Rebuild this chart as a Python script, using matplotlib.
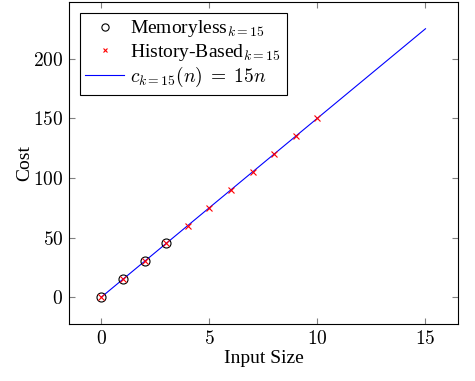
import matplotlib
matplotlib.use('Agg')
import matplotlib.pyplot as plt
import numpy as np

plt.rcParams['font.family'] = ['Liberation Serif', 'DejaVu Serif']
plt.rcParams['mathtext.fontset'] = 'cm'

# Data
memoryless_n = [0, 1, 2, 3]
memoryless_cost = [0, 15, 30, 45]
history_n = [0, 1, 2, 3, 4, 5, 6, 7, 8, 9, 10]
history_cost = [0, 15, 30, 45, 60, 75, 90, 105, 120, 135, 150]
line_n = [0, 15]
line_cost = [0, 225]
xticks = [0, 5, 10, 15]
yticks = [0, 50, 100, 150, 200]

fig = plt.figure(figsize=(4.75, 3.81), dpi=100)
ax = fig.add_axes([0.145, 0.1496, 0.819, 0.8454])

ax.plot(memoryless_n, memoryless_cost, 'o', mfc='none', mec='black', ms=6.5, mew=0.8,
        label=r'Memoryless$_{k=15}$', zorder=3)
ax.plot(history_n, history_cost, 'x', color='red', ms=4.3, mew=0.8,
        label=r'History-Based$_{k=15}$', zorder=4)
ax.plot(line_n, line_cost, '-', color='blue', lw=0.8,
        label=r'$c_{k=15}(n)\;=\;15n$', zorder=2)

ax.set_xlim(-1.5, 16.5)
ax.set_ylim(-22.5, 247.5)
ax.set_xticks(xticks)
ax.set_yticks(yticks)
ax.set_xticklabels([f'${t}$' for t in xticks], fontsize=14)
ax.set_yticklabels([f'${t}$' for t in yticks], fontsize=14)
ax.tick_params(direction='in', top=True, right=True, length=4, width=0.8, color='0.5', pad=4)
for s in ax.spines.values():
    s.set_linewidth(0.8)
ax.set_xlabel('Input Size', fontsize=14, labelpad=2)
ax.set_ylabel('Cost', fontsize=14, labelpad=0)

leg = ax.legend(loc='upper left', fontsize=14, frameon=True, fancybox=False,
                edgecolor='black', framealpha=1, borderaxespad=0.55,
                handlelength=2.0, handletextpad=0.3, borderpad=0.3, labelspacing=0.12,
                markerscale=0.8)
leg.get_frame().set_linewidth(0.8)

fig.savefig('out.png', dpi=100)
